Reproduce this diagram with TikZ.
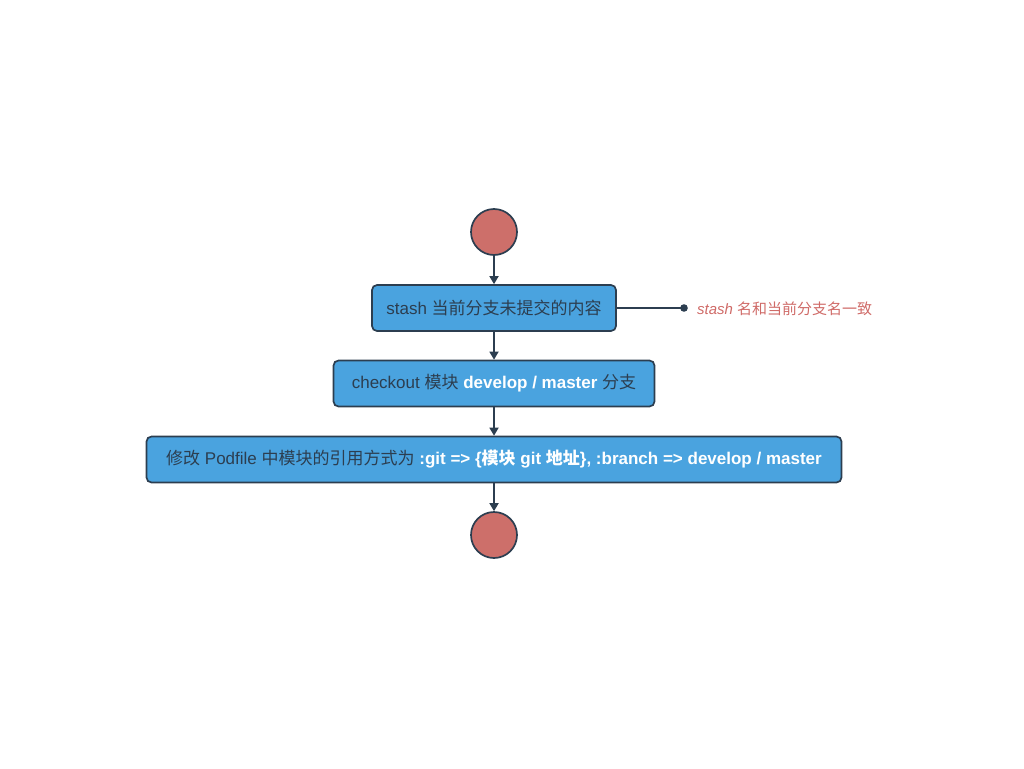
\documentclass[tikz,border=0pt]{standalone}
\usepackage{fontspec}
\setmainfont{Liberation Sans}
\newfontfamily\cjk{Noto Sans CJK SC}
\usetikzlibrary{arrows.meta}
\definecolor{boxblue}{HTML}{4AA3DF}
\definecolor{edge}{HTML}{2C3E50}
\definecolor{startred}{HTML}{CD6F6A}
\definecolor{notered}{HTML}{CF6A67}
\newcommand{\zh}[1]{{\cjk #1}}
\tikzset{
  terminal/.style={circle, draw=edge, fill=startred, line width=1.7pt, minimum size=46pt, inner sep=0pt},
  action/.style={rectangle, rounded corners=5pt, draw=edge, fill=boxblue, line width=1.7pt,
    minimum height=46pt, inner sep=0pt, text=edge, font=\fontsize{17}{19}\selectfont},
  flow/.style={draw=edge, line width=1.7pt, -{Triangle[length=8pt,width=9pt]}}
}
\begin{document}
\begin{tikzpicture}[x=1pt,y=-1pt]
\useasboundingbox (0,0) rectangle (1024,768);
\node[terminal] (start) at (494,232) {};
\node[action, minimum width=244pt] (stash) at (494,308) {stash \zh{当前分支未提交的内容}};
\node[action, minimum width=321pt] (checkout) at (494,383.5)
  {checkout \zh{模块} \textcolor{white}{\bfseries develop / master} \zh{分支}};
\node[action, minimum width=695pt] (podfile) at (494,459.5)
  {\zh{修改} Podfile \zh{中模块的引用方式为} \textcolor{white}{\bfseries :git => \{{\cjk\bfseries 模块} git {\cjk\bfseries 地址}\}, :branch => develop / master}};
\node[terminal] (stop) at (494,535) {};
\coordinate (pin) at (684,308);
\fill[edge] (pin) circle (3.8pt);
\node[anchor=west, text=notered, font=\fontsize{15}{17}\selectfont, inner sep=0pt] (note) at (697,308.5)
  {\textit{stash} \zh{名和当前分支名一致}};
\draw[edge, line width=1.7pt] (stash.east) -- (pin);
\draw[flow] (start) -- (stash);
\draw[flow] (stash) -- (checkout);
\draw[flow] (checkout) -- (podfile);
\draw[flow] (podfile) -- (stop);
\end{tikzpicture}
\end{document}
